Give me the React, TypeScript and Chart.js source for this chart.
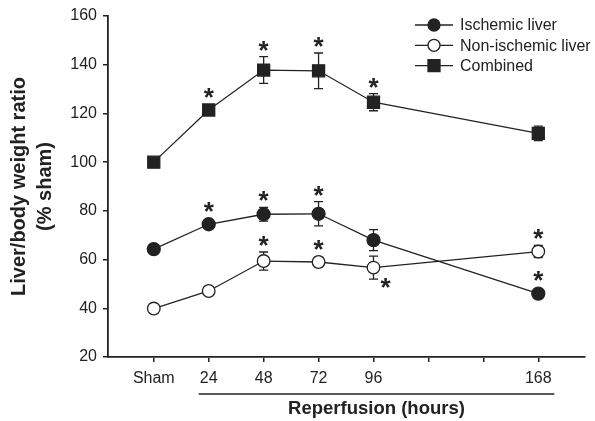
import React, { useEffect, useRef } from 'react';
import { Chart, registerables } from 'chart.js';

Chart.register(...registerables);

// ---- data ----
const categories = ['Sham', '24', '48', '72', '96', '168'];
const hours = [0, 24, 48, 72, 96, 168];
const tickHours = [0, 24, 48, 72, 96, 120, 144, 168];
const tickLabels = ['Sham', '24', '48', '72', '96', '', '', '168'];
const yTicks = [20, 40, 60, 80, 100, 120, 140, 160];

const ischemic = [64.3, 74.5, 78.6, 78.8, 68.0, 46.0];
const ischemicErr = [1.0, 1.2, 2.8, 5.0, 4.3, 1.0];
const ischemicSig = ['', 'above', 'above', 'above', '', 'above'];

const nonIschemic = [39.9, 47.1, 59.4, 59.0, 56.7, 63.3];
const nonIschemicErr = [0.8, 1.0, 3.7, 2.0, 4.7, 2.5];
const nonIschemicSig = ['', '', 'above', 'above', 'belowRight', 'above'];

const combined = [100, 121.4, 137.8, 137.5, 124.6, 111.8];
const combinedErr = [0.8, 1.5, 5.5, 7.3, 3.5, 3.0];
const combinedSig = ['', 'above', 'above', 'above', 'above', ''];

const seriesLabels = ['Ischemic liver', 'Non-ischemic liver', 'Combined'];
const yTitle = ['Liver/body weight ratio', '(% sham)'];
const xTitle = 'Reperfusion (hours)';

// ---- style ----
const FONT = '"Liberation Sans", Arial, Helvetica, sans-serif';
const INK = '#222222';

type Series = {
  label: string;
  values: number[];
  err: number[];
  sig: string[];
  style: 'circle' | 'rect';
  fill: string;
  radius: number;
  half: number;
};

const series: Series[] = [
  { label: seriesLabels[0], values: ischemic, err: ischemicErr, sig: ischemicSig, style: 'circle', fill: INK, radius: 6.5, half: 6.5 },
  { label: seriesLabels[1], values: nonIschemic, err: nonIschemicErr, sig: nonIschemicSig, style: 'circle', fill: '#ffffff', radius: 6.3, half: 6.5 },
  { label: seriesLabels[2], values: combined, err: combinedErr, sig: combinedSig, style: 'rect', fill: INK, radius: 8.5, half: 6 },
];

const decor = {
  id: 'decor',
  beforeDatasetsDraw(chart: any) {
    const ctx = chart.ctx;
    const xs = chart.scales.x;
    const ys = chart.scales.y;
    ctx.save();
    ctx.strokeStyle = INK;
    ctx.lineWidth = 1.3;
    series.forEach((s) => {
      s.values.forEach((v, j) => {
        const x = xs.getPixelForValue(hours[j]);
        const yt = ys.getPixelForValue(v + s.err[j]);
        const yb = ys.getPixelForValue(v - s.err[j]);
        ctx.beginPath();
        ctx.moveTo(x, yt);
        ctx.lineTo(x, yb);
        ctx.moveTo(x - 4.5, yt);
        ctx.lineTo(x + 4.5, yt);
        ctx.moveTo(x - 4.5, yb);
        ctx.lineTo(x + 4.5, yb);
        ctx.stroke();
      });
    });
    ctx.restore();
  },
  afterDatasetsDraw(chart: any) {
    const ctx = chart.ctx;
    const xs = chart.scales.x;
    const ys = chart.scales.y;
    ctx.save();
    ctx.fillStyle = INK;
    ctx.font = `bold 26px ${FONT}`;
    ctx.textAlign = 'center';
    ctx.textBaseline = 'alphabetic';
    const m = ctx.measureText('*');
    const shift = (m.actualBoundingBoxAscent - m.actualBoundingBoxDescent) / 2;
    series.forEach((s) => {
      s.values.forEach((v, j) => {
        const kind = s.sig[j];
        if (!kind) return;
        const x = xs.getPixelForValue(hours[j]);
        const py = ys.getPixelForValue(v);
        const yt = ys.getPixelForValue(v + s.err[j]);
        const yb = ys.getPixelForValue(v - s.err[j]);
        if (kind === 'above') {
          const top = Math.min(py - s.half, yt);
          ctx.fillText('*', x, top - 11 + shift);
        } else if (kind === 'belowRight') {
          const bot = Math.max(py + s.half, yb);
          ctx.fillText('*', x + 12, bot + 4 + shift);
        }
      });
    });
    ctx.restore();
  },
  afterDraw(chart: any) {
    const ctx = chart.ctx;
    const xs = chart.scales.x;
    const ca = chart.chartArea;
    ctx.save();
    // legend
    ctx.font = `16px ${FONT}`;
    ctx.textBaseline = 'middle';
    ctx.textAlign = 'left';
    series.forEach((s, k) => {
      const y = 25 + k * 20.3;
      ctx.strokeStyle = INK;
      ctx.lineWidth = 1.3;
      ctx.beginPath();
      ctx.moveTo(415, y);
      ctx.lineTo(453, y);
      ctx.stroke();
      ctx.beginPath();
      if (s.style === 'circle') {
        ctx.arc(434, y, 6, 0, Math.PI * 2);
      } else {
        ctx.rect(434 - 6, y - 6, 12, 12);
      }
      ctx.fillStyle = s.fill;
      ctx.fill();
      ctx.stroke();
      ctx.fillStyle = INK;
      ctx.fillText(s.label, 460, y + 1);
    });
    // y title
    ctx.font = `bold 20px ${FONT}`;
    ctx.textAlign = 'center';
    ctx.textBaseline = 'middle';
    const cy = (ca.top + ca.bottom) / 2;
    [19.5, 45].forEach((cx, i) => {
      ctx.save();
      ctx.translate(cx, cy);
      ctx.rotate(-Math.PI / 2);
      ctx.fillText(yTitle[i], 0, 0);
      ctx.restore();
    });
    // x title with underline
    const x0 = xs.getPixelForValue(hours[1]) - 10;
    const x1 = xs.getPixelForValue(hours[5]) + 16;
    ctx.strokeStyle = INK;
    ctx.lineWidth = 1.6;
    ctx.beginPath();
    ctx.moveTo(x0, 394);
    ctx.lineTo(x1, 394);
    ctx.stroke();
    ctx.font = `bold 18.5px ${FONT}`;
    ctx.fillText(xTitle, (x0 + x1) / 2, 409);
    ctx.restore();
  },
};

export default function App() {
  const ref = useRef<HTMLCanvasElement>(null);
  useEffect(() => {
    if (!ref.current) return;
    const chart = new Chart(ref.current, {
      type: 'line',
      data: {
        labels: categories,
        datasets: series.map((s) => ({
          label: s.label,
          data: s.values.map((v, j) => ({ x: hours[j], y: v })),
          borderColor: INK,
          borderWidth: 1.3,
          backgroundColor: s.fill,
          pointBackgroundColor: s.fill,
          pointBorderColor: INK,
          pointBorderWidth: 1.3,
          pointStyle: s.style,
          pointRadius: s.radius,
          pointHoverRadius: s.radius,
          tension: 0,
          fill: false,
        })),
      },
      options: {
        responsive: false,
        animation: false,
        events: [],
        layout: { padding: { left: 0, right: 1, top: 16, bottom: 0 } },
        plugins: { legend: { display: false }, tooltip: { enabled: false }, title: { display: false } },
        scales: {
          x: {
            type: 'linear',
            min: -20,
            max: 188.5,
            afterBuildTicks: (scale: any) => {
              scale.ticks = tickHours.map((v) => ({ value: v }));
            },
            afterFit: (scale: any) => {
              scale.height = 64;
            },
            ticks: {
              autoSkip: false,
              maxRotation: 0,
              padding: 7,
              color: INK,
              font: { family: FONT, size: 16 },
              callback: (value: any) => {
                const i = tickHours.indexOf(Number(value));
                return i >= 0 ? tickLabels[i] : '';
              },
            },
            grid: { drawOnChartArea: false, drawTicks: true, tickLength: 5, color: INK, lineWidth: 1.5 },
            border: { display: true, color: INK, width: 1.8 },
          },
          y: {
            type: 'linear',
            min: 20,
            max: 160,
            afterBuildTicks: (scale: any) => {
              scale.ticks = yTicks.map((v) => ({ value: v }));
            },
            afterFit: (scale: any) => {
              scale.width = 108;
            },
            ticks: {
              padding: 6,
              color: INK,
              font: { family: FONT, size: 16 },
            },
            grid: { drawOnChartArea: false, drawTicks: true, tickLength: 5, color: INK, lineWidth: 1.5 },
            border: { display: true, color: INK, width: 1.8 },
          },
        },
      },
      plugins: [decor],
    });
    return () => chart.destroy();
  }, []);
  return (
    <div style={{ position: 'absolute', left: 0, top: 0, width: 595, height: 421, background: '#fff' }}>
      <canvas ref={ref} width={595} height={421} style={{ display: 'block' }} />
    </div>
  );
}
